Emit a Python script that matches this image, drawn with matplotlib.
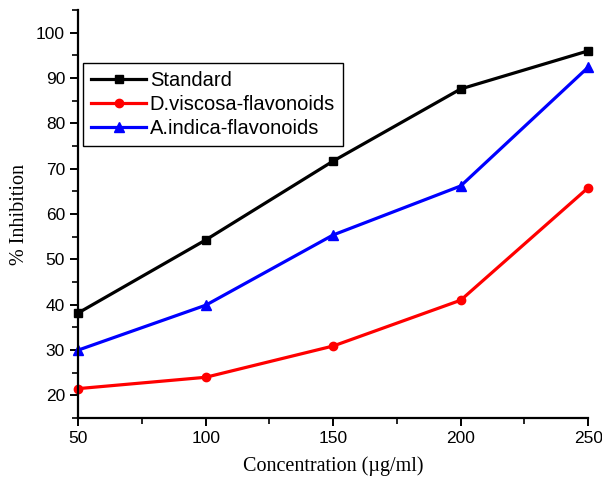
import matplotlib
matplotlib.use("Agg")
import matplotlib.pyplot as plt
from matplotlib.ticker import MultipleLocator

conc = [50, 100, 150, 200, 250]
standard = [38.2, 54.3, 71.7, 87.6, 96.0]
d_viscosa = [21.5, 24.0, 30.9, 41.0, 65.8]
a_indica = [30.0, 39.9, 55.4, 66.2, 92.4]

fig = plt.figure(figsize=(6.02, 4.8), dpi=100)
ax = fig.add_axes([0.13, 0.129, 0.847, 0.85])

ax.plot(conc, standard, "k-", marker="s", markersize=6, lw=2.3, label="Standard", clip_on=False)
ax.plot(conc, d_viscosa, "r-", marker="o", markersize=6, lw=2.3, label="D.viscosa-flavonoids", clip_on=False)
ax.plot(conc, a_indica, "b-", marker="^", markersize=7, lw=2.3, label="A.indica-flavonoids", clip_on=False)

ax.set_xlim(50, 250)
ax.set_ylim(15, 105)
ax.xaxis.set_major_locator(MultipleLocator(50))
ax.xaxis.set_minor_locator(MultipleLocator(25))
ax.yaxis.set_minor_locator(MultipleLocator(5))
ax.set_yticks(range(20, 101, 10))

ax.spines["top"].set_visible(False)
ax.spines["right"].set_visible(False)
ax.spines["left"].set_linewidth(1.6)
ax.spines["bottom"].set_linewidth(1.6)
ax.tick_params(which="major", direction="out", length=6, width=1.4, labelsize=12.5)
ax.tick_params(which="minor", direction="out", length=4, width=1.2)
for lab in ax.get_xticklabels() + ax.get_yticklabels():
    lab.set_family("Liberation Sans")

ax.set_xlabel("Concentration (µg/ml)", family="Liberation Serif", fontsize=14.5, labelpad=7)
ax.set_ylabel("% Inhibition", family="Liberation Serif", fontsize=14.5, labelpad=5)

leg = ax.legend(loc="upper left", bbox_to_anchor=(0.01, 0.87), prop={"family": "Liberation Sans", "size": 14.5},
                fancybox=False, edgecolor="black", framealpha=1, handlelength=2.7,
                borderpad=0.4, labelspacing=0.25, handletextpad=0.2, borderaxespad=0)
leg.get_frame().set_linewidth(1.0)

fig.savefig("out.png", dpi=100)
